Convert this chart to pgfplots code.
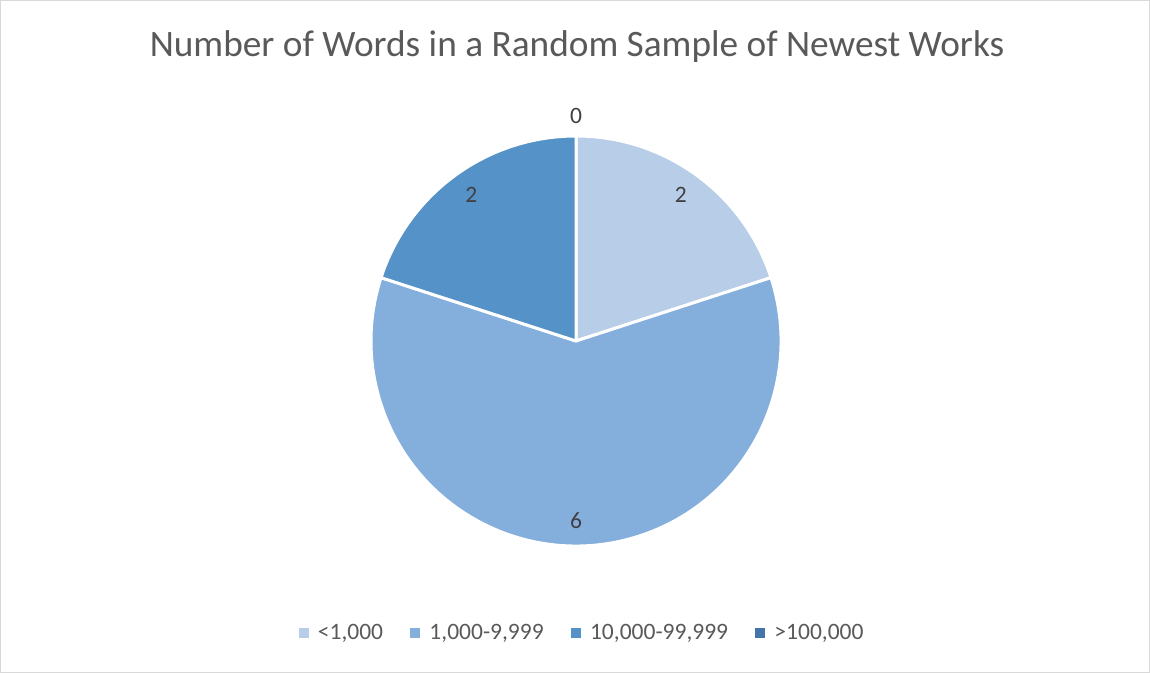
\documentclass[border=0pt]{standalone}
\usepackage{pgfplots}
\usepackage{pgfplotstable}
\usepackage{fontspec}
\pgfplotsset{compat=1.18}
\setmainfont{Carlito}

\definecolor{sliceA}{HTML}{B7CDE8}
\definecolor{sliceB}{HTML}{84AEDC}
\definecolor{sliceC}{HTML}{5592C8}
\definecolor{sliceD}{HTML}{4474A9}
\definecolor{titlegray}{HTML}{595959}
\definecolor{labelgray}{HTML}{404040}
\definecolor{framegray}{HTML}{D9D9D9}

% word-count classes and number of works in each
\pgfplotstableread{
label value colour
{<1,000} 2 sliceA
{1,000-9,999} 6 sliceB
{10,000-99,999} 2 sliceC
{>100,000} 0 sliceD
}\wordtable

\newcommand{\cx}{576}
\newcommand{\cy}{332}
\newcommand{\rad}{205}

\begin{document}
\begin{tikzpicture}
\begin{axis}[
  scale only axis,
  width=1150bp, height=673bp,
  xmin=0, xmax=1150, ymin=0, ymax=673,
  hide axis, clip=false,
  legend columns=4,
  legend style={
    draw=none, fill=none,
    at={(axis cs:582,40)}, anchor=center,
    font=\fontsize{23.5bp}{28bp}\selectfont\color{titlegray},
    /tikz/every odd column/.append style={column sep=8bp},
    /tikz/every even column/.append style={column sep=25bp},
  },
]
% chart frame
\draw[framegray, line width=1bp] (axis cs:0.5,0.5) rectangle (axis cs:1149.5,672.5);

% title
\node[anchor=base, text=titlegray, font=\fontsize{37.3bp}{44bp}\selectfont]
  at (axis cs:577,616) {Number of Words in a Random Sample of Newest Works};

% total of all slices
\pgfplotstablegetrowsof{\wordtable}
\pgfmathtruncatemacro\lastrow{\pgfplotsretval-1}
\def\total{0}
\pgfplotsforeachungrouped \i in {0,...,\lastrow}{%
  \pgfplotstablegetelem{\i}{value}\of\wordtable
  \pgfmathsetmacro\total{\total+\pgfplotsretval}%
}

% slices clockwise from twelve o'clock, with their value labels
\def\acc{0}
\pgfplotsforeachungrouped \i in {0,...,\lastrow}{%
  \pgfplotstablegetelem{\i}{value}\of\wordtable
  \let\val\pgfplotsretval
  \pgfplotstablegetelem{\i}{colour}\of\wordtable
  \let\col\pgfplotsretval
  \pgfmathsetmacro\startang{90-360*\acc/\total}%
  \pgfmathsetmacro\acc{\acc+\val}%
  \pgfmathsetmacro\endang{90-360*\acc/\total}%
  \pgfmathsetmacro\midang{(\startang+\endang)/2}%
  \pgfmathsetmacro\lr{\val>0 ? 180 : 225}%
  \pgfmathsetmacro\lx{\cx+(\lr-3*abs(cos(\midang)))*cos(\midang)}%
  \pgfmathsetmacro\ly{\cy+\lr*sin(\midang)}%
  \pgfmathtruncatemacro\shown{\val}%
  \ifdim\val pt>0pt
    \edef\cmd{\noexpand\fill[\col, draw=white, line width=3bp, line join=round]
      (axis cs:\cx,\cy) -- ([shift={(\startang:\rad bp)}]axis cs:\cx,\cy)
      arc[start angle=\startang, end angle=\endang, radius=\rad bp] -- cycle;}%
    \cmd
  \fi
  \edef\cmd{\noexpand\node[text=labelgray, font=\noexpand\fontsize{23.5bp}{28bp}\noexpand\selectfont]
    at (axis cs:\lx,\ly) {\shown};}%
  \cmd
}

\addlegendimage{legend image code/.code={\fill[sliceA] (0bp,-4.5bp) rectangle (9bp,4.5bp);}}
\addlegendentry{<1,000}
\addlegendimage{legend image code/.code={\fill[sliceB] (0bp,-4.5bp) rectangle (9bp,4.5bp);}}
\addlegendentry{1,000-9,999}
\addlegendimage{legend image code/.code={\fill[sliceC] (0bp,-4.5bp) rectangle (9bp,4.5bp);}}
\addlegendentry{10,000-99,999}
\addlegendimage{legend image code/.code={\fill[sliceD] (0bp,-4.5bp) rectangle (9bp,4.5bp);}}
\addlegendentry{>100,000}
\end{axis}
\end{tikzpicture}
\end{document}
